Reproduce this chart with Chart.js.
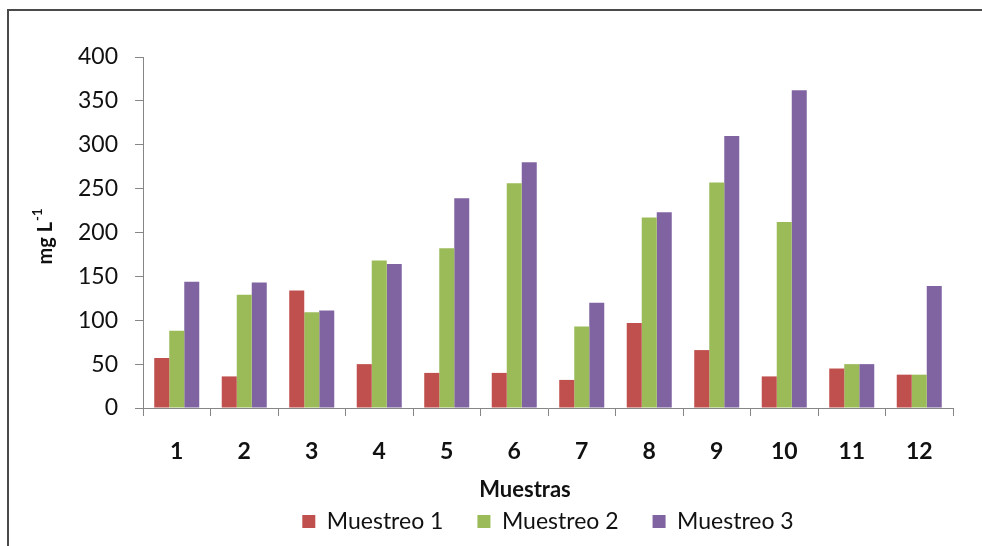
<!DOCTYPE html>
<html>
<head>
<meta charset="utf-8">
<script src="https://cdn.jsdelivr.net/npm/chart.js@4"></script>
<style>
  html, body { margin: 0; padding: 0; background: #fff; }
  #wrap { width: 982px; height: 546px; }
</style>
</head>
<body>
<div id="wrap"><canvas id="c" width="982" height="546"></canvas></div>
<script>
// Sample numbers on the x axis
const muestras = ['1', '2', '3', '4', '5', '6', '7', '8', '9', '10', '11', '12'];

// Concentration (mg L-1) for each sampling campaign
const muestreo1 = [57, 36, 134, 50, 40, 40, 32, 97, 66, 36, 45, 38];
const muestreo2 = [88, 129, 109, 168, 182, 256, 93, 217, 257, 212, 50, 38];
const muestreo3 = [144, 143, 111, 164, 239, 280, 120, 223, 310, 362, 50, 139];

const seriesNames = ['Muestreo 1', 'Muestreo 2', 'Muestreo 3'];
const yTitle = 'mg L';
const yTitleSup = '-1';
const xTitle = 'Muestras';

const axisColor = '#868686';
const textColor = '#111111';

// Frame lines, y-axis title with superscript and x-axis title
const decorations = {
  id: 'decorations',
  beforeDraw(chart) {
    const ctx = chart.ctx;
    ctx.save();
    ctx.fillStyle = '#ffffff';
    ctx.fillRect(0, 0, chart.width, chart.height);
    ctx.strokeStyle = '#4a4a4a';
    ctx.lineWidth = 2;
    ctx.beginPath();
    ctx.moveTo(8, chart.height);
    ctx.lineTo(8, 10);
    ctx.lineTo(chart.width, 10);
    ctx.stroke();
    ctx.restore();
  },
  afterDraw(chart) {
    const ctx = chart.ctx;
    const area = chart.chartArea;
    ctx.save();
    // y title, rotated
    ctx.translate(46, (area.top + area.bottom) / 2 + 4);
    ctx.rotate(-Math.PI / 2);
    ctx.fillStyle = textColor;
    ctx.textBaseline = 'middle';
    ctx.font = 'bold 20px Lato';
    const w1 = ctx.measureText(yTitle).width;
    ctx.font = 'bold 13px Lato';
    const w2 = ctx.measureText(yTitleSup).width;
    const start = -(w1 + w2 + 1) / 2;
    ctx.font = 'bold 20px Lato';
    ctx.textAlign = 'left';
    ctx.fillText(yTitle, start, 0);
    ctx.font = 'bold 13px Lato';
    ctx.fillText(yTitleSup, start + w1 + 1, -8);
    ctx.restore();

    // x title
    ctx.save();
    ctx.fillStyle = textColor;
    ctx.font = 'bold 22px Lato';
    ctx.textAlign = 'center';
    ctx.textBaseline = 'middle';
    ctx.fillText(xTitle, 525, 490);
    ctx.restore();
  }
};

new Chart(document.getElementById('c'), {
  type: 'bar',
  data: {
    labels: muestras,
    datasets: [
      { label: seriesNames[0], data: muestreo1, backgroundColor: '#C0504D' },
      { label: seriesNames[1], data: muestreo2, backgroundColor: '#9BBB59' },
      { label: seriesNames[2], data: muestreo3, backgroundColor: '#8064A2' }
    ]
  },
  options: {
    responsive: false,
    animation: false,
    devicePixelRatio: 1,
    layout: { padding: { left: 0, right: 29, top: 57, bottom: 3 } },
    datasets: { bar: { categoryPercentage: 0.667, barPercentage: 1.0, borderWidth: 0 } },
    plugins: {
      tooltip: { enabled: false },
      legend: {
        position: 'bottom',
        fullSize: false,
        labels: {
          font: { family: 'Lato', size: 23 },
          color: textColor,
          boxWidth: 13,
          boxHeight: 13,
          padding: 34
        }
      }
    },
    scales: {
      x: {
        offset: true,
        grid: {
          offset: true,
          drawOnChartArea: false,
          drawTicks: true,
          tickLength: 8,
          color: axisColor
        },
        border: { color: axisColor, width: 1 },
        ticks: {
          font: { family: 'Lato', size: 23, weight: 'bold' },
          color: textColor,
          padding: 22,
          maxRotation: 0
        },
        afterFit(scale) { scale.height = 68; }
      },
      y: {
        min: 0,
        max: 400,
        ticks: {
          stepSize: 50,
          font: { family: 'Lato', size: 23 },
          color: textColor,
          padding: 17
        },
        grid: {
          drawOnChartArea: false,
          drawTicks: true,
          tickLength: 8,
          color: axisColor
        },
        border: { color: axisColor, width: 1 },
        afterFit(scale) { scale.width = 143; }
      }
    }
  },
  plugins: [decorations]
});
</script>
</body>
</html>
